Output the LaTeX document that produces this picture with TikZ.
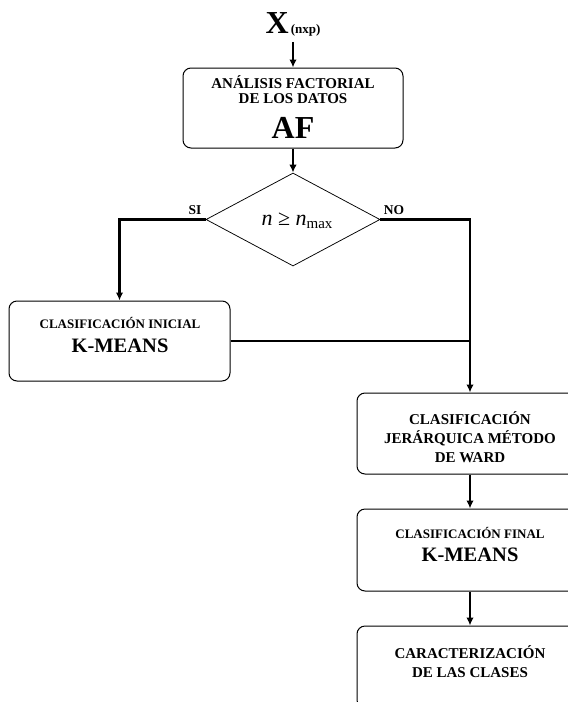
\documentclass[tikz,border=0pt]{standalone}
\usepackage{fontspec}
\setmainfont{Liberation Serif}
\usetikzlibrary{shapes.geometric,arrows.meta}
\begin{document}
\begin{tikzpicture}[x=1pt,y=-1pt,
  box/.style={draw,rounded corners=8pt,line width=1pt,inner sep=0pt},
  dia/.style={draw,diamond,line width=0.75pt,inner sep=0pt,minimum width=174pt,minimum height=93pt},
  conn/.style={line width=2.1pt},
  arr/.style={conn,-{Latex[length=8pt,width=7.5pt]}},
  txt/.style={font=\bfseries,anchor=base,inner sep=0pt},
  fa/.style={font=\bfseries\fontsize{15}{15}\selectfont},
  fb/.style={font=\bfseries\fontsize{13}{13}\selectfont},
  fc/.style={font=\bfseries\fontsize{20.5}{20.5}\selectfont}]
\useasboundingbox (0,0) rectangle (568,702);
\clip (0,0) rectangle (568,702);
% boxes
\node[box,minimum width=220pt,minimum height=80pt] (af) at (293,108) {};
\node[dia] (d) at (293,219.5) {};
\node[box,minimum width=221pt,minimum height=80pt] (ini) at (119.5,341) {};
\node[box,minimum width=226pt,minimum height=81pt] (w) at (470,433.5) {};
\node[box,minimum width=226pt,minimum height=82pt] (fin) at (470,550) {};
\node[box,minimum width=226pt,minimum height=82pt] (car) at (470,667) {};
% texts
\node[txt] (x) at (293,33) {\fontsize{32}{32}\selectfont X\fontsize{13}{13}\selectfont\,(nxp)};
\node[txt,fa] (af1) at (293,88) {ANÁLISIS FACTORIAL};
\node[txt,fa] (af2) at (293,103) {DE LOS DATOS};
\node[txt,font=\bfseries\fontsize{32}{32}\selectfont] (af3) at (293,138) {AF};
\node[txt,font=\fontsize{22}{22}\selectfont] (cond) at (297,225) {\textit{n} ≥ \textit{n}\raisebox{-3pt}{\fontsize{15}{15}\selectfont max}};
\node[txt,font=\bfseries\fontsize{13.5}{13.5}\selectfont] (si) at (195,214) {SI};
\node[txt,font=\bfseries\fontsize{13.5}{13.5}\selectfont] (no) at (394,214) {NO};
\node[txt,fb] (ini1) at (120,328) {CLASIFICACIÓN INICIAL};
\node[txt,fc] (ini2) at (120,352) {K-MEANS};
\node[txt,fa] (w1) at (470,424) {CLASIFICACIÓN};
\node[txt,fa] (w2) at (470,443) {JERÁRQUICA MÉTODO};
\node[txt,fa] (w3) at (470,462) {DE WARD};
\node[txt,fb] (fin1) at (470,538) {CLASIFICACIÓN FINAL};
\node[txt,fc] (fin2) at (470,561) {K-MEANS};
\node[txt,fa] (car1) at (470,658) {CARACTERIZACIÓN};
\node[txt,fa] (car2) at (470,677) {DE LAS CLASES};
% connectors
\draw[arr] ([yshift=-6pt]x.south) -- (af.north);
\draw[arr] (af.south) -- (d.north);
\draw[arr] (d.west) -| (ini.north);
\draw[arr] (d.east) -| (w.north);
\coordinate (j) at (ini.east -| w.north);
\draw[conn] (ini.east) -- (j);
\draw[arr] (w.south) -- (fin.north);
\draw[arr] (fin.south) -- (car.north);
\end{tikzpicture}
\end{document}
